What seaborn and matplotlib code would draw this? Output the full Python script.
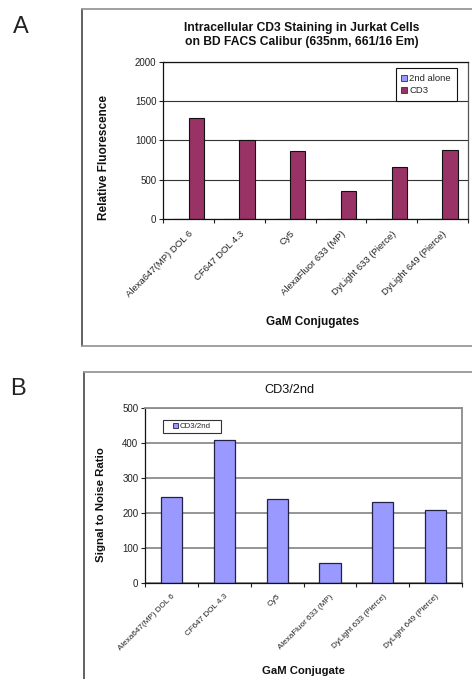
import numpy as np
import pandas as pd
import matplotlib
matplotlib.use("Agg")
import matplotlib.pyplot as plt
import seaborn as sns
from matplotlib.patches import Patch, Rectangle
from matplotlib.lines import Line2D
from matplotlib.ticker import MultipleLocator

# ---- data -------------------------------------------------------------
conjugates = ["Alexa647(MP) DOL 6", "CF647 DOL 4.3", "Cy5",
              "AlexaFluor 633 (MP)", "DyLight 633 (Pierce)", "DyLight 649 (Pierce)"]
second_alone = [5.2, 2.5, 3.6, 6.0, 2.8, 4.3]
cd3 = [1280, 1010, 870, 355, 660, 885]
cd3_over_2nd = [245, 408, 241, 59, 232, 208]

series_a = ["2nd alone", "CD3"]
colors_a = {"2nd alone": "#9999FF", "CD3": "#993366"}
color_b = "#9999FF"

sns.set_theme(style="white")
plt.rcParams["font.family"] = ["Liberation Sans", "DejaVu Sans"]

W, H = 472, 679
fig = plt.figure(figsize=(W / 100, H / 100), dpi=100)


def px_axes(left, top, right, bottom):
    return fig.add_axes([left / W, 1 - bottom / H, (right - left) / W, (bottom - top) / H])


def fig_line(xs, ys, color, lw):
    fig.add_artist(Line2D([x / W for x in xs], [1 - y / H for y in ys],
                          color=color, lw=lw, transform=fig.transFigure, clip_on=False))


def fig_text(x, y, s, **kw):
    fig.text(x / W, 1 - y / H, s, ha="center", va="center", **kw)


def style_axes(ax, ymax, ystep, grid_color, grid_lw, label_size, pad):
    ax.set_xlim(-0.5, len(conjugates) - 0.5)
    ax.set_ylim(0, ymax)
    ax.yaxis.set_major_locator(MultipleLocator(ystep))
    ax.set_xticks(range(len(conjugates)))
    ax.set_xticks(np.arange(-0.5, len(conjugates), 1), minor=True)
    ax.set_xticklabels(conjugates, rotation=45, ha="right", va="top",
                       rotation_mode="anchor", fontsize=label_size, color="#222222")
    ax.tick_params(axis="x", which="major", length=0, pad=pad)
    ax.tick_params(axis="x", which="minor", bottom=True, length=3, width=0.8,
                   color="#222222", direction="out")
    ax.tick_params(axis="y", left=True, length=3, width=0.8, color="#222222",
                   direction="out", labelsize=7, pad=2, labelcolor="#222222")
    ax.grid(axis="y", color=grid_color, lw=grid_lw)
    ax.set_axisbelow(True)
    ax.set_xlabel("")
    ax.set_ylabel("")


# ---- panel frames -----------------------------------------------------
fig_line([82, 82], [8.7, 346], "#555555", 1.3)
fig_line([82, 480], [8.7, 8.7], "#999999", 1.3)
fig_line([82, 480], [346, 346], "#999999", 1.3)
fig_line([84.3, 84.3], [371.7, 690], "#555555", 1.3)
fig_line([84.3, 480], [371.7, 371.7], "#999999", 1.3)

fig_text(20.5, 27, "A", fontsize=17, color="#222222")
fig_text(17.5, 389, "B", fontsize=17, color="#222222")

# ---- panel A: relative fluorescence -----------------------------------
df_a = pd.DataFrame({
    "conjugate": conjugates * 2,
    "value": second_alone + cd3,
    "series": [series_a[0]] * len(conjugates) + [series_a[1]] * len(conjugates),
})
axA = px_axes(163.3, 61.7, 467.7, 219.3)
sns.barplot(data=df_a, x="conjugate", y="value", hue="series", order=conjugates,
            hue_order=series_a, palette=colors_a, width=0.6, saturation=1,
            edgecolor="#111111", linewidth=0.8, ax=axA, legend=False)
style_axes(axA, 2000, 500, "#333333", 0.8, 6.8, 7)
for side in ["left", "bottom", "top"]:
    axA.spines[side].set_color("#111111")
    axA.spines[side].set_linewidth(0.9)
axA.spines["right"].set_color("#555555")
axA.spines["right"].set_linewidth(0.9)

legA = axA.legend(
    [Patch(facecolor=colors_a[s], edgecolor="#333333", lw=0.6) for s in series_a],
    series_a, loc="upper left", bbox_to_anchor=(395.7 / W, 1 - 68.3 / H),
    bbox_transform=fig.transFigure, fontsize=6.8, frameon=True, fancybox=False,
    edgecolor="#111111", framealpha=1, borderpad=0.6, handlelength=0.6,
    handleheight=0.6, handletextpad=0.25, labelspacing=0.35, borderaxespad=0)
legA.get_frame().set_linewidth(0.8)

fig_text(301.7, 34.9, "Intracellular CD3 Staining in Jurkat Cells\non BD FACS Calibur (635nm, 661/16 Em)",
         fontsize=8.7, weight="bold", linespacing=1.18, color="#111111")
fig_text(104, 158, "Relative Fluorescence", rotation=90, fontsize=8.5,
         weight="bold", color="#111111")
fig_text(313, 322, "GaM Conjugates", fontsize=8.5, weight="bold", color="#111111")

# ---- panel B: signal to noise -----------------------------------------
df_b = pd.DataFrame({"conjugate": conjugates, "ratio": cd3_over_2nd})
axB = px_axes(145.3, 408, 462, 583.3)
sns.barplot(data=df_b, x="conjugate", y="ratio", order=conjugates, color=color_b,
            width=0.4, saturation=1, edgecolor="#222244", linewidth=0.9, ax=axB)
style_axes(axB, 500, 100, "#8c8c8c", 1.3, 5.9, 7)
for side in ["left", "bottom"]:
    axB.spines[side].set_color("#111111")
    axB.spines[side].set_linewidth(0.9)
for side in ["top", "right"]:
    axB.spines[side].set_color("#8c8c8c")
    axB.spines[side].set_linewidth(1.3)

# legend box for panel B, with the entry centred inside it
axB.add_artist(Rectangle((163.3 / W, 1 - 433.3 / H), (220.7 - 163.3) / W, 13.6 / H,
                         transform=fig.transFigure, facecolor="white",
                         edgecolor="#333333", lw=0.8, zorder=5, clip_on=False))
legB = axB.legend([Patch(facecolor=color_b, edgecolor="#222244", lw=0.6)], ["CD3/2nd"],
                  loc="center", bbox_to_anchor=(192 / W, 1 - 426.5 / H),
                  bbox_transform=fig.transFigure, fontsize=5.7, frameon=False,
                  borderpad=0, handlelength=0.6, handleheight=0.6,
                  handletextpad=0.2, borderaxespad=0)
legB.set_zorder(6)

fig_text(289.3, 390, "CD3/2nd", fontsize=9.2, color="#111111")
fig_text(101, 504.3, "Signal to Noise Ratio", rotation=90, fontsize=8.2,
         weight="bold", color="#111111")
fig_text(303.3, 671, "GaM Conjugate", fontsize=8.1, weight="bold", color="#111111")

fig.savefig("out.png", dpi=100)
